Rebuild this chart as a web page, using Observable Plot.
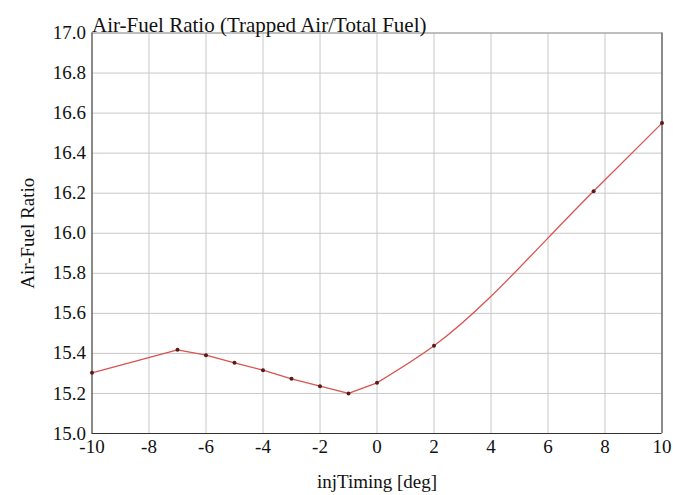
<!DOCTYPE html>
<html>
<head>
<meta charset="utf-8">
<script src="https://cdn.jsdelivr.net/npm/d3@7"></script>
<script src="https://cdn.jsdelivr.net/npm/@observablehq/plot@0.6"></script>
<style>
  html, body { margin: 0; padding: 0; background: #fff; }
</style>
</head>
<body>
<div id="chart"></div>
<script>
const injTiming = [-10, -7, -6, -5, -4, -3, -2, -1, 0, 2, 7.6, 10];
const airFuel = [15.303, 15.418, 15.391, 15.353, 15.316, 15.273, 15.236, 15.200, 15.253, 15.438, 16.210, 16.550];
const xTicks = [-10, -8, -6, -4, -2, 0, 2, 4, 6, 8, 10];
const yTicks = [15.0, 15.2, 15.4, 15.6, 15.8, 16.0, 16.2, 16.4, 16.6, 16.8, 17.0];
const title = "Air-Fuel Ratio (Trapped Air/Total Fuel)";
const xLabel = "injTiming [deg]";
const yLabel = "Air-Fuel Ratio";

const data = injTiming.map((x, i) => ({x, y: airFuel[i]}));
const leftPart = data.filter(d => d.x <= 0);
const rightPart = data.filter(d => d.x >= 0);
const FONT = "Times New Roman, Times, Liberation Serif, serif";

const chart = Plot.plot({
  width: 673,
  height: 495,
  marginLeft: 91.5,
  marginRight: 11.5,
  marginTop: 32.5,
  marginBottom: 62,
  style: {fontFamily: FONT, fontSize: "19px", color: "#111", background: "#fff"},
  x: {domain: [-10, 10], ticks: xTicks, tickSize: 0, tickPadding: 6, tickFormat: d => String(d),
      label: xLabel, labelAnchor: "center", labelArrow: "none", labelOffset: 54},
  y: {domain: [15, 17], ticks: yTicks, tickSize: 0, tickPadding: 6, tickFormat: d => d.toFixed(1),
      label: yLabel, labelAnchor: "center", labelArrow: "none", labelOffset: 72},
  marks: [
    Plot.gridX(xTicks, {stroke: "#c8c8c8", strokeOpacity: 1}),
    Plot.gridY(yTicks, {stroke: "#c8c8c8", strokeOpacity: 1}),
    Plot.ruleY([17], {stroke: "#9a9a9a"}),
    Plot.ruleX([-10], {stroke: "#333"}),
    Plot.ruleX([10], {stroke: "#333"}),
    Plot.ruleY([15], {stroke: "#333"}),
    Plot.line(leftPart, {x: "x", y: "y", stroke: "#d9534f", strokeWidth: 1.3, curve: "linear"}),
    Plot.line(rightPart, {x: "x", y: "y", stroke: "#d9534f", strokeWidth: 1.3, curve: "monotone-x"}),
    Plot.dot(data, {x: "x", y: "y", r: 2, fill: "#5a1a1a", stroke: "none"}),
    Plot.text([title], {frameAnchor: "top-left", textAnchor: "start", lineAnchor: "bottom", dy: -1, fontSize: 21, fill: "#111"})
  ]
});
document.getElementById("chart").appendChild(chart);
chart.setAttribute("font-family", FONT);
chart.querySelectorAll("g, text").forEach(el => el.setAttribute("font-family", FONT));
</script>
</body>
</html>
